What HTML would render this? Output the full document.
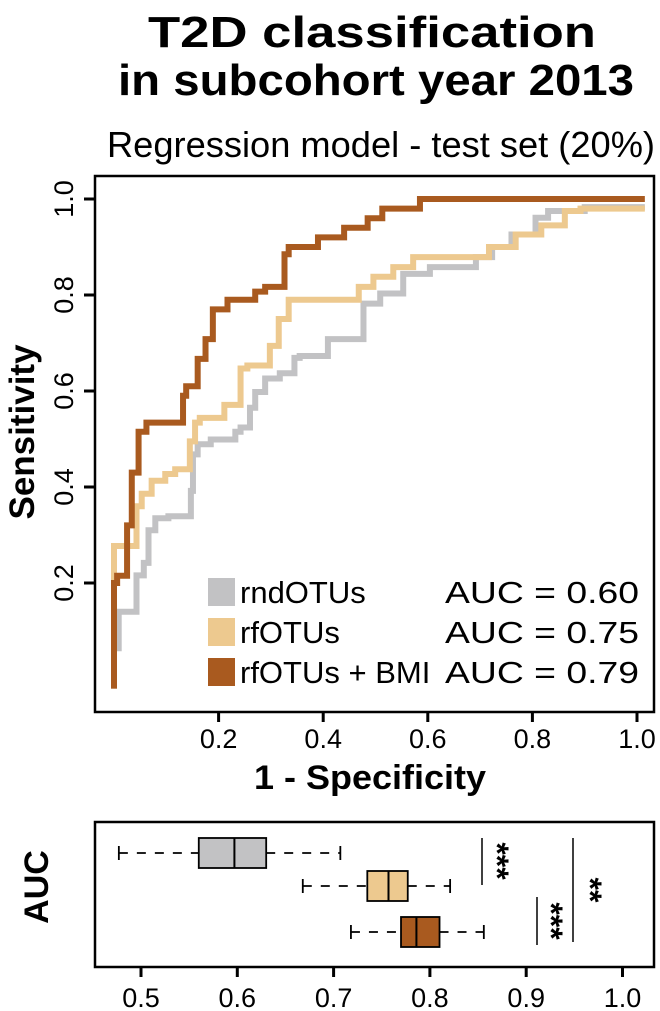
<!DOCTYPE html>
<html><head><meta charset="utf-8"><style>
html,body{margin:0;padding:0;background:#fff;}
svg{display:block;font-family:"Liberation Sans",Arial,sans-serif;}
</style></head><body>
<svg id="fig" width="660" height="1011" viewBox="0 0 660 1011">
<text x="372" y="47" font-size="44" font-weight="bold" text-anchor="middle" textLength="448" lengthAdjust="spacingAndGlyphs">T2D classification</text>
<text x="376" y="95" font-size="44" font-weight="bold" text-anchor="middle" textLength="516" lengthAdjust="spacingAndGlyphs">in subcohort year 2013</text>
<text x="381" y="157" font-size="36" text-anchor="middle" textLength="548" lengthAdjust="spacingAndGlyphs">Regression model - test set (20%)</text>
<rect x="95" y="176" width="559" height="536" fill="none" stroke="#000" stroke-width="2.5"/>
<g id="roc-curves"></g>
<g id="roc-axes"></g>
<text transform="translate(34,432) rotate(-90)" font-size="35" font-weight="bold" text-anchor="middle">Sensitivity</text>
<text x="370" y="789" font-size="34" font-weight="bold" text-anchor="middle" textLength="232" lengthAdjust="spacingAndGlyphs">1 - Specificity</text>
<g id="legend"></g>
<rect x="95" y="822" width="559" height="145" fill="none" stroke="#000" stroke-width="2.5"/>
<text transform="translate(48,887) rotate(-90)" font-size="34" font-weight="bold" text-anchor="middle">AUC</text>
<g id="boxes"></g>
<g id="box-axis"></g>
<g id="sig"></g>
</svg>
<script>
const seriesNames = ["rndOTUs","rfOTUs","rfOTUs + BMI"];
const aucLabels = ["AUC = 0.60","AUC = 0.75","AUC = 0.79"];
const colors = ["#c2c2c4","#edc98f","#a95a1f"];
const rndFpr = [0,0,0.009,0.015,0.043,0.057,0.066,0.079,0.104,0.147,0.151,0.16,0.185,0.232,0.242,0.26,0.27,0.289,0.317,0.345,0.355,0.409,0.477,0.509,0.553,0.604,0.692,0.723,0.76,0.806,0.83,0.9,1.015];
const rndTpr = [-0.02,0.057,0.064,0.14,0.14,0.216,0.242,0.31,0.335,0.339,0.392,0.468,0.489,0.499,0.515,0.524,0.565,0.598,0.626,0.637,0.669,0.673,0.708,0.782,0.803,0.844,0.858,0.879,0.9,0.926,0.961,0.975,0.983];
const rfFpr = [0,0,0.043,0.053,0.072,0.098,0.117,0.145,0.155,0.164,0.211,0.242,0.255,0.298,0.315,0.334,0.362,0.468,0.496,0.534,0.572,0.717,0.768,0.817,0.862,0.892,1.015];
const rfTpr = [-0.02,0.24,0.277,0.36,0.386,0.413,0.427,0.437,0.495,0.534,0.544,0.571,0.647,0.653,0.694,0.75,0.79,0.79,0.817,0.838,0.858,0.879,0.9,0.926,0.945,0.975,0.98];
const bmiFpr = [0,0.006,0.025,0.034,0.047,0.062,0.132,0.138,0.16,0.175,0.189,0.217,0.27,0.289,0.326,0.334,0.39,0.44,0.485,0.513,0.585,0.598,1.015];
const bmiTpr = [-0.02,0.2,0.215,0.32,0.43,0.515,0.534,0.59,0.61,0.667,0.708,0.77,0.79,0.807,0.817,0.885,0.9,0.92,0.94,0.96,0.98,1.0,1.0];
const rocTicks = [0.2,0.4,0.6,0.8,1.0];
const rocTickLabels = ["0.2","0.4","0.6","0.8","1.0"];
const boxMin = [0.477,0.668,0.718];
const boxQ1 = [0.56,0.735,0.77];
const boxMed = [0.597,0.757,0.786];
const boxQ3 = [0.63,0.777,0.81];
const boxMax = [0.707,0.821,0.856];
const aucTicks = [0.5,0.6,0.7,0.8,0.9,1.0];
const aucTickLabels = ["0.5","0.6","0.7","0.8","0.9","1.0"];

const NS="http://www.w3.org/2000/svg";
function mk(tag, attrs, parent){const e=document.createElementNS(NS,tag);for(const k in attrs)e.setAttribute(k,attrs[k]);parent.appendChild(e);return e;}
const sx = v => 114 + v*523;
const sy = v => 679 - v*480;
const bx = v => 141 + (v-0.5)*963;

const curves=document.getElementById('roc-curves');
const data=[[rndFpr,rndTpr],[rfFpr,rfTpr],[bmiFpr,bmiTpr]];
const curveNames=['roc-curve-rndotus','roc-curve-rfotus','roc-curve-rfotus-bmi'];
data.forEach((d,i)=>{
  let p='M'+sx(d[0][0])+','+sy(d[1][0]);
  for(let j=1;j<d[0].length;j++){p+=' V'+sy(d[1][j])+' H'+sx(d[0][j]);}
  const el=mk('path',{d:p,fill:'none',stroke:colors[i],'stroke-width':6,'stroke-linejoin':'miter'},curves);
  
  
});
const ax=document.getElementById('roc-axes');
rocTicks.forEach((t,i)=>{
  const l=mk('line',{x1:sx(t),x2:sx(t),y1:712,y2:722,stroke:'#000','stroke-width':3},ax);
  
  
  const tx=mk('text',{x:sx(t),y:748,'font-size':27,'text-anchor':'middle'},ax);
  tx.textContent=rocTickLabels[i];
  
  
  const l2=mk('line',{x1:84,x2:95,y1:sy(t),y2:sy(t),stroke:'#000','stroke-width':3},ax);
  
  
  const ty=mk('text',{transform:'translate(73,'+sy(t)+') rotate(-90)','font-size':27,'text-anchor':'middle'},ax);
  ty.textContent=rocTickLabels[i];
  
  
});
const lg=document.getElementById('legend');
const aucLen=[194,194,194];
seriesNames.forEach((n,i)=>{
  const y=592+i*40;
  const r=mk('rect',{x:208,y:y-14,width:27,height:28,fill:colors[i]},lg);
  
  
  const t=mk('text',{x:240,y:y+11,'font-size':31},lg);t.textContent=n;
  
  
  const a=mk('text',{x:445,y:y+11,'font-size':31,textLength:aucLen[i],lengthAdjust:'spacingAndGlyphs'},lg);a.textContent=aucLabels[i];
  
  
});
const bg=document.getElementById('boxes');
const rowY=[853,886,932];
boxMin.forEach((m,i)=>{
  const y=rowY[i];
  const w1=mk('line',{x1:bx(m),x2:bx(boxQ1[i]),y1:y,y2:y,stroke:'#000','stroke-width':1.8,'stroke-dasharray':'9,9'},bg);
  
  
  const w2=mk('line',{x1:bx(boxQ3[i]),x2:bx(boxMax[i]),y1:y,y2:y,stroke:'#000','stroke-width':1.8,'stroke-dasharray':'9,9'},bg);
  
  
  [m,boxMax[i]].forEach(v=>{
    const c=mk('line',{x1:bx(v),x2:bx(v),y1:y-7,y2:y+7,stroke:'#000','stroke-width':1.8},bg);
    
    
  });
  const r=mk('rect',{x:bx(boxQ1[i]),y:y-15,width:bx(boxQ3[i])-bx(boxQ1[i]),height:30,fill:colors[i],stroke:'#000','stroke-width':1.8},bg);
  
  
  const md=mk('line',{x1:bx(boxMed[i]),x2:bx(boxMed[i]),y1:y-15,y2:y+15,stroke:'#000','stroke-width':2},bg);
  
  
});
const ba=document.getElementById('box-axis');
aucTicks.forEach((t,i)=>{
  const l=mk('line',{x1:bx(t),x2:bx(t),y1:967,y2:977,stroke:'#000','stroke-width':3},ba);
  
  
  const tx=mk('text',{x:bx(t),y:1007,'font-size':27,'text-anchor':'middle'},ba);
  tx.textContent=aucTickLabels[i];
  
  
});
const sg=document.getElementById('sig');
[[482,838,885,497,861,'***'],[537,897,945,551,921,'***'],[573,838,942,590,890,'**']].forEach(s=>{
  const l=mk('line',{x1:s[0],x2:s[0],y1:s[1],y2:s[2],stroke:'#000','stroke-width':1.5},sg);
  
  
  const t=mk('text',{transform:'translate('+(s[3]-11)+','+s[4]+') rotate(90)','font-size':32,'font-weight':'bold','text-anchor':'middle'},sg);
  t.textContent=s[5];
  
  
});
</script>
</body></html>
